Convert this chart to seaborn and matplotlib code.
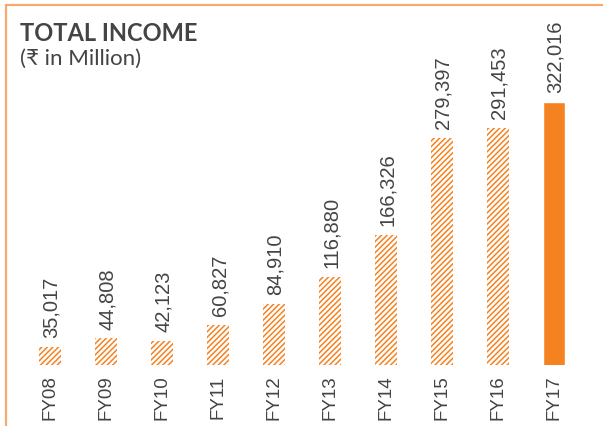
import matplotlib
matplotlib.use("Agg")
import matplotlib.pyplot as plt
import seaborn as sns
import pandas as pd
from matplotlib.lines import Line2D

# datos del gráfico
years = ["FY08", "FY09", "FY10", "FY11", "FY12", "FY13", "FY14", "FY15", "FY16", "FY17"]
income = [35017, 44808, 42123, 60827, 84910, 116880, 166326, 279397, 291453, 322016]
labels = ["35,017", "44,808", "42,123", "60,827", "84,910", "116,880", "166,326",
          "279,397", "291,453", "322,016"]

naranja = "#F58220"
borde = "#F9A86E"
gris = "#444444"

sns.set_theme(style="white")
plt.rcParams["hatch.color"] = naranja
plt.rcParams["hatch.linewidth"] = 1.1

df = pd.DataFrame({"year": years, "income": income})

fig = plt.figure(figsize=(6.03, 4.27), dpi=100)
ax = fig.add_axes([22.3 / 603, 61.3 / 427, 559.7 / 603, 345.7 / 427])

sns.barplot(data=df, x="year", y="income", ax=ax, width=0.4,
            color=naranja, saturation=1)

# todas menos la última con rayado
for i, bar in enumerate(ax.patches):
    if i < len(years) - 1:
        bar.set_facecolor("white")
        bar.set_edgecolor(naranja)
        bar.set_linewidth(0)
        bar.set_hatch("//////")
    ax.annotate(labels[i], (bar.get_x() + bar.get_width() / 2, bar.get_height()),
                xytext=(1, 7), textcoords="offset points", rotation=90,
                ha="center", va="bottom", fontsize=14.5, color=gris,
                family="Liberation Sans")

ax.set_ylim(14000, 418800)
ax.set_xlim(-0.5, len(years) - 0.5)
ax.set_xlabel("")
ax.set_ylabel("")
ax.set_yticks([])
for s in ax.spines.values():
    s.set_visible(False)
ax.tick_params(axis="x", length=0, pad=7)
for t in ax.get_xticklabels():
    t.set_rotation(90)
    t.set_fontsize(13.5)
    t.set_color(gris)
    t.set_family("Liberation Sans")
    t.set_va("top")

# títulos
fig.text(20 / 603, 1 - 22 / 427, "TOTAL INCOME", fontsize=17, fontweight="bold",
         color=gris, family=["Lato", "DejaVu Sans"], ha="left", va="top")
fig.text(20 / 603, 1 - 49 / 427, "(₹ in Million)", fontsize=16,
         color=gris, family=["Lato", "DejaVu Sans"], ha="left", va="top")

# marco superior e izquierdo
fig.add_artist(Line2D([5.5 / 603, 1], [1 - 5.5 / 427, 1 - 5.5 / 427],
                      transform=fig.transFigure, color=borde, lw=1.6))
fig.add_artist(Line2D([5.5 / 603, 5.5 / 603], [0, 1 - 5.5 / 427],
                      transform=fig.transFigure, color=borde, lw=1.6))

fig.savefig("out.png", dpi=100)
